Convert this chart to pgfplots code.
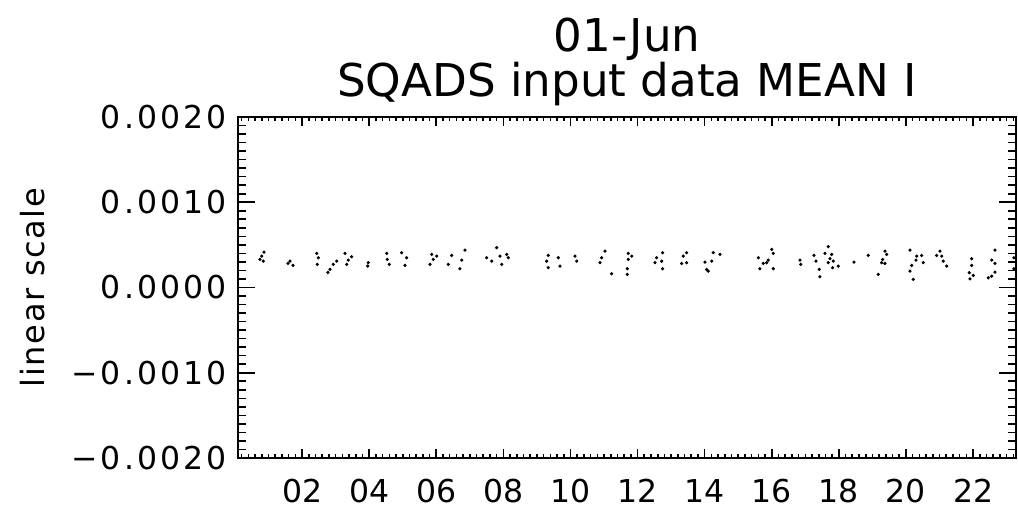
\documentclass[border=0pt]{standalone}
\usepackage{fontspec}
\setmainfont{DejaVu Sans}
\newfontfamily\widefont[LetterSpace=10]{DejaVu Sans}
\newfontfamily\labelfont[LetterSpace=5]{DejaVu Sans}
\usepackage{pgfplots}
\usepackage{pgfplotstable}
\pgfplotsset{compat=1.18}

% hour of day, mean I
\pgfplotstableread{
h v
0.864 4.15e-4
0.796 3.68e-4
0.745 3.29e-4
0.844 3.09e-4
1.639 3.09e-4
1.580 2.82e-4
1.729 2.59e-4
2.435 4.00e-4
2.483 3.49e-4
2.453 2.71e-4
3.031 3.09e-4
2.930 2.71e-4
2.832 2.12e-4
2.772 1.76e-4
3.279 4.00e-4
3.478 3.61e-4
3.377 3.21e-4
3.329 2.71e-4
3.973 2.91e-4
3.955 2.51e-4
4.522 4.00e-4
4.539 3.29e-4
4.599 2.71e-4
4.969 4.08e-4
5.118 3.49e-4
5.067 2.59e-4
5.863 3.88e-4
6.012 3.68e-4
5.911 3.29e-4
5.812 2.71e-4
6.459 3.76e-4
6.358 2.71e-4
6.855 4.39e-4
6.757 3.21e-4
6.706 2.20e-4
7.800 4.67e-4
7.502 3.49e-4
7.651 3.09e-4
7.949 2.71e-4
8.098 3.88e-4
8.146 3.49e-4
7.899 3.68e-4
9.338 3.76e-4
9.290 3.09e-4
9.338 2.32e-4
9.636 3.49e-4
9.687 2.51e-4
10.134 3.68e-4
10.185 3.09e-4
11.028 4.27e-4
10.930 3.49e-4
10.879 2.91e-4
11.228 1.61e-4
11.723 4.00e-4
11.824 3.68e-4
11.723 3.29e-4
11.693 2.20e-4
11.693 1.53e-4
12.748 4.08e-4
12.569 3.49e-4
12.519 2.91e-4
12.718 3.09e-4
12.748 2.20e-4
13.463 4.08e-4
13.362 3.68e-4
13.314 2.82e-4
13.463 2.91e-4
14.256 4.08e-4
14.456 3.88e-4
14.209 3.09e-4
14.009 2.98e-4
14.059 2.12e-4
14.107 1.92e-4
15.997 4.47e-4
16.045 4.00e-4
15.598 3.49e-4
15.896 3.21e-4
15.747 2.82e-4
15.648 2.20e-4
16.045 2.20e-4
15.848 2.91e-4
16.841 3.21e-4
16.861 2.71e-4
17.258 3.76e-4
17.317 3.09e-4
17.416 2.12e-4
17.437 1.26e-4
17.684 4.79e-4
17.586 4.00e-4
17.785 3.88e-4
17.735 3.38e-4
17.684 2.91e-4
17.833 3.09e-4
17.982 2.51e-4
17.815 2.32e-4
18.450 2.98e-4
18.876 3.76e-4
19.374 4.27e-4
19.425 3.88e-4
19.305 3.29e-4
19.275 2.91e-4
19.374 2.82e-4
19.174 1.53e-4
20.119 4.39e-4
20.319 3.68e-4
20.468 3.76e-4
20.298 3.21e-4
20.170 2.59e-4
20.119 1.92e-4
20.516 2.91e-4
20.217 0.94e-4
21.013 4.27e-4
20.915 3.76e-4
21.064 3.68e-4
21.112 3.09e-4
21.213 2.51e-4
21.958 3.38e-4
21.958 2.59e-4
21.887 1.73e-4
22.006 1.41e-4
21.908 1.02e-4
22.653 4.39e-4
22.554 3.21e-4
22.653 2.82e-4
22.653 1.80e-4
22.453 1.14e-4
22.554 1.33e-4
23.219 3.49e-4
23.219 2.20e-4
}\meanI

\begin{document}
\begin{tikzpicture}
\pgfplotsset{
  idlbox/.style={
    width=389pt, height=170.5pt, scale only axis,
    xmin=0.09, xmax=23.28, ymin=-0.002, ymax=0.002,
    tick align=inside, scaled x ticks=false, scaled y ticks=false,
    tick style={black, line width=0.8pt},
  }
}
\begin{axis}[idlbox, name=main,
  axis line style={black, line width=1pt},
  xtick={2,4,...,22},
  xticklabels={02,04,06,08,10,12,14,16,18,20,22},
  minor xtick={0.2,0.4,...,23.2},
  ytick=\empty,
  major tick length=4.5pt, minor tick length=2pt,
  xticklabel style={font=\fontsize{15.75}{18}\selectfont, yshift=-7pt},
]
  \addplot[only marks, mark=*, mark size=0.6pt, black] table {\meanI};
\end{axis}
\begin{axis}[idlbox,
  axis line style={draw=none},
  xtick=\empty,
  ytick={-0.002,-0.001,0,0.001,0.002},
  yticklabels={−0.0020,−0.0010,0.0000,0.0010,0.0020},
  minor ytick={-0.0019,-0.0018,...,0.00195},
  major tick length=8.5pt, minor tick length=4pt,
  yticklabel style={font=\widefont\fontsize{15.75}{18}\selectfont, xshift=-2pt},
]
\end{axis}
\node[anchor=base, font=\fontsize{22.6}{26}\selectfont] at ([yshift=32.5pt]main.north) {01-Jun};
\node[anchor=base, font=\fontsize{22.6}{26}\selectfont] at ([yshift=10pt]main.north) {SQADS input data MEAN I};
\node[rotate=90, font=\labelfont\fontsize{16}{19}\selectfont] at ([xshift=-102.5pt]main.west) {linear scale};
\path ([shift={(-119pt,-34.5pt)}]main.south west) rectangle ([shift={(1pt,58.5pt)}]main.north east);
\end{tikzpicture}
\end{document}
